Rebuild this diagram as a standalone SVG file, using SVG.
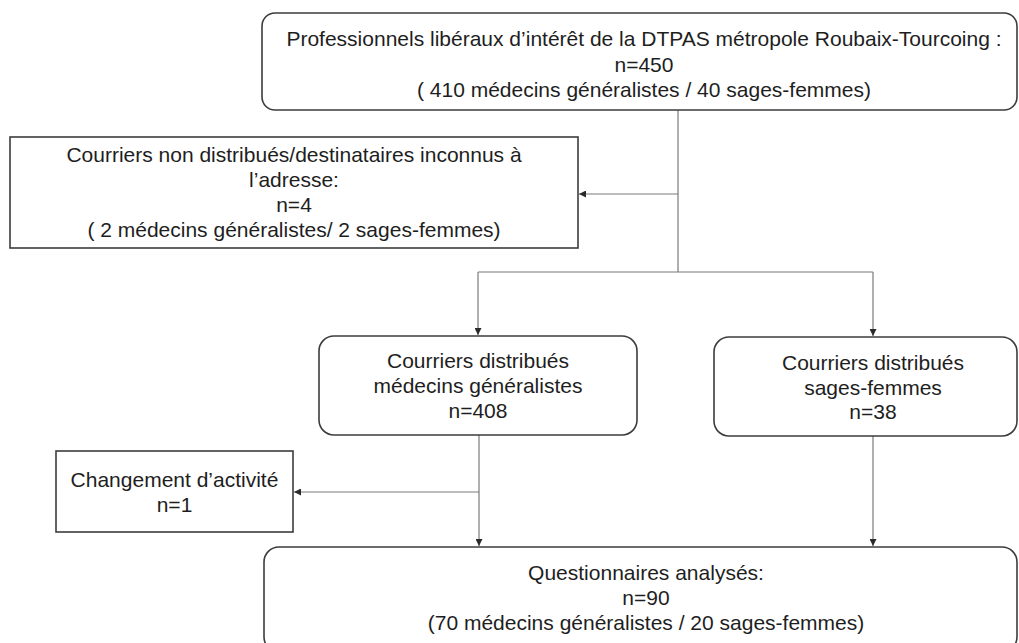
<svg xmlns="http://www.w3.org/2000/svg" width="1019" height="643" viewBox="0 0 1019 643">
<style>
.box{fill:#ffffff;stroke:#3c3c3c;stroke-width:1.6}
.t{font-family:"Liberation Sans",Arial,sans-serif;font-size:21px;fill:#1e1e1e;text-anchor:middle}
.c{fill:none;stroke:#7a7a7a;stroke-width:1.2}
</style>
<defs>
<marker id="ah" markerUnits="userSpaceOnUse" markerWidth="7" markerHeight="7" refX="7" refY="3.5" orient="auto">
<path d="M0,0 L7,3.5 L0,7 z" fill="#2a2a2a"/>
</marker>
</defs>
<rect width="1019" height="643" fill="#ffffff"/>
<g id="connectors">
<path class="c" d="M678,110 V272"/>
<path class="c" d="M678,194 H579" marker-end="url(#ah)"/>
<path class="c" d="M478,272 H873"/>
<path class="c" d="M478,272 V335" marker-end="url(#ah)"/>
<path class="c" d="M873,272 V336" marker-end="url(#ah)"/>
<path class="c" d="M479,435 V546" marker-end="url(#ah)"/>
<path class="c" d="M479,492 H294" marker-end="url(#ah)"/>
<path class="c" d="M873,436 V546" marker-end="url(#ah)"/>
</g>
<g id="node-top">
<rect class="box" x="262" y="13" width="755" height="97" rx="13"/>
<text class="t" x="644" y="46">Professionnels libéraux d’intérêt de la DTPAS métropole Roubaix-Tourcoing :</text>
<text class="t" x="644" y="71.5">n=450</text>
<text class="t" x="644" y="97">( 410 médecins généralistes / 40 sages-femmes)</text>
</g>
<g id="node-nondistrib">
<rect class="box" x="10" y="137" width="568" height="111"/>
<text class="t" x="294" y="162">Courriers non distribués/destinataires inconnus à</text>
<text class="t" x="294" y="187">l’adresse:</text>
<text class="t" x="294" y="212">n=4</text>
<text class="t" x="294" y="237">( 2 médecins généralistes/ 2 sages-femmes)</text>
</g>
<g id="node-med">
<rect class="box" x="319" y="336" width="318" height="99" rx="15"/>
<text class="t" x="478" y="368">Courriers distribués</text>
<text class="t" x="478" y="393">médecins généralistes</text>
<text class="t" x="478" y="418">n=408</text>
</g>
<g id="node-sf">
<rect class="box" x="714" y="337" width="303" height="99" rx="15"/>
<text class="t" x="873" y="370">Courriers distribués</text>
<text class="t" x="873" y="395">sages-femmes</text>
<text class="t" x="873" y="419">n=38</text>
</g>
<g id="node-changement">
<rect class="box" x="56" y="451" width="237" height="81"/>
<text class="t" x="174.5" y="487">Changement d’activité</text>
<text class="t" x="174.5" y="512">n=1</text>
</g>
<g id="node-analyses">
<rect class="box" x="264" y="547" width="753" height="105" rx="15"/>
<text class="t" x="646" y="580">Questionnaires analysés:</text>
<text class="t" x="646" y="605">n=90</text>
<text class="t" x="646" y="630">(70 médecins généralistes / 20 sages-femmes)</text>
</g>
</svg>
